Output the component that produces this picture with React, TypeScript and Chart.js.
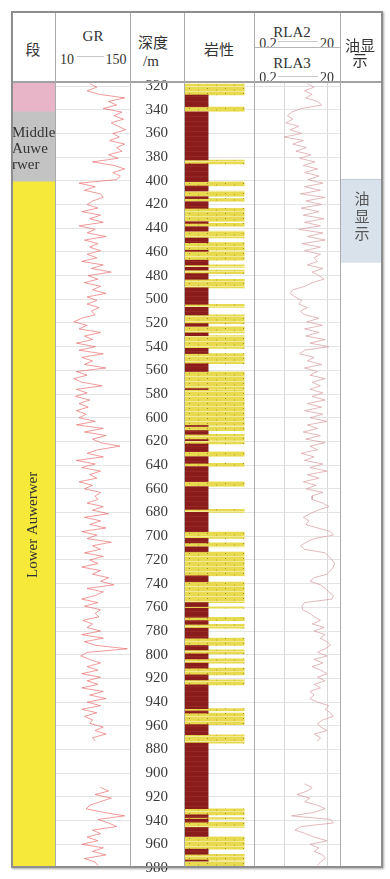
import React, { useEffect, useRef } from 'react';
import { Chart, registerables } from 'chart.js';

Chart.register(...registerables);

// ---------------- data ----------------
const DEPTH_MIN = 316.6;
const DEPTH_MAX = 980;
const DEPTH_TICKS = [320, 340, 360, 380, 400, 420, 440, 460, 480, 500, 520, 540, 560, 580, 600, 620, 640, 660, 680, 700, 720, 740, 760, 780, 800, 820, 840, 860, 880, 900, 920, 940, 960, 980];
const DEPTH_LABELS = ['320', '340', '360', '380', '400', '420', '440', '460', '480', '500', '520', '540', '560', '580', '600', '620', '640', '660', '680', '700', '720', '740', '760', '780', '800', '920', '940', '960', '880', '900', '920', '940', '960', '980'];

// 段 (formation segments)
const SEG_TOP = [316.6, 341.7, 400.8];
const SEG_BASE = [341.7, 400.8, 980];
const SEG_COLOR = ['#e8b4c8', '#c3c3c3', '#f6e93a'];
const SEG_TEXT = [[], ['Middle', 'Auwe', 'rwer'], ['Lower Auwerwer']];
const SEG_VERTICAL = [false, false, true];

// 油显示
const OIL_TOP = [398.5];
const OIL_BASE = [469.1];
const OIL_TEXT = ['油', '显', '示'];

// 岩性 intervals [top, base]
const SAND = [[318.3, 327.6], [337.5, 341.7], [382.4, 385.8], [400.7, 404.4], [408.6, 413.4], [415, 417.6], [423.2, 434.5], [435.9, 438.7], [442.5, 448.3], [452.2, 458.6], [459.6, 467], [471, 473], [475.3, 478.3], [483.1, 490.3], [504.2, 506.8], [513.2, 520.5], [522.8, 528.4], [530.7, 541.4], [545.8, 554.4], [561, 575.4], [576.2, 606.5], [607.4, 610.8], [613.9, 618.4], [619.3, 622.1], [628.6, 632.8], [638.4, 641.2], [653.9, 658.1], [677.3, 679.8], [696.2, 701.8], [705.6, 708.9], [713.1, 733.4], [738.4, 756], [759.4, 760.8], [768.4, 771.2], [774.3, 777.6], [786, 792.2], [795.9, 799.3], [803.5, 807.1], [811.3, 817], [821.2, 825.4], [845.5, 847.5], [849.2, 859], [867.5, 874.6], [930, 935.1], [937.4, 938.8], [941.3, 945.8], [953.4, 964.1], [968.4, 973.3], [974.2, 979.6]];
const MUD = [[327.6, 337.5], [341.7, 382.4], [385.8, 400.7], [404.4, 408.6], [413.4, 415], [417.6, 423.2], [434.5, 435.9], [438.7, 442.5], [448.3, 452.2], [458.6, 459.6], [467, 471], [473, 475.3], [478.3, 483.1], [490.3, 504.2], [506.8, 513.2], [520.5, 522.8], [528.4, 530.7], [541.4, 545.8], [554.4, 561], [575.4, 576.2], [606.5, 607.4], [610.8, 613.9], [618.4, 619.3], [622.1, 628.6], [632.8, 638.4], [641.2, 653.9], [658.1, 677.3], [679.8, 696.2], [701.8, 705.6], [708.9, 713.1], [733.4, 738.4], [756, 759.4], [760.8, 768.4], [771.2, 774.3], [777.6, 786], [792.2, 795.9], [799.3, 803.5], [807.1, 811.3], [817, 821.2], [825.4, 845.5], [847.5, 849.2], [859, 867.5], [874.6, 930], [935.1, 937.4], [938.8, 941.3], [945.8, 953.4], [964.1, 968.4], [973.3, 974.2]];
const SAND_WIDTH = 0.86; // fraction of lithology track
const MUD_WIDTH = 0.345;

// log curves sampled every LOG_STEP m from LOG_TOP
const LOG_TOP = 318;
const LOG_STEP = 3;
const GR = [
  75, 88, 70, 92, 140, 110, 125, 100, 135, 120,
  138, 115, 128, 142, 118, 130, 112, 140, 125, 135,
  110, 128, 80, 120, 140, 118, 132, 125,
  55, 85, 65, 95, 100, 80, 70, 90, 60, 95,
  75, 100, 55, 85, 70, 105, 65, 90, 75, 95,
  70, 88, 60, 100, 78, 115, 72, 90, 65, 95, 80, 105, 70,
  88, 70, 92, 78, 85, 60, 45, 70, 55, 95,
  65, 80, 50, 85, 55, 100, 60, 80, 65, 105,
  50, 70, 45, 60, 98, 50, 70, 48, 75, 55,
  72, 50, 68, 55, 85, 50, 100, 65, 105, 80,
  95, 131, 90, 70, 100, 50, 85, 60, 95, 75,
  88, 55, 80, 65, 95, 85,
  90, 70, 100, 80, 110, 65, 95, 75, 105, 60,
  88, 70, 115, 80, 95, 65, 100, 75, 90, 60,
  95, 80, 110,
  95, 120, 70, 100, 85, 60, 90, 65, 95, 85,
  92, 62, 80, 70, 95, 60, 100, 65, 85, 145,
  70, 58, 75, 95, 70, 90, 60, 95, 70, 90,
  60, 100, 75, 105, 70, 95, 60, 88, 65, 80,
  75, 100, 85, 105, 80, 85,
  null, null, null, null, null, null, null, null, null, null, null, null,
  95, 110, 85, 115, 95, 75, 68, 100, 140, 90,
  110, 125, 80, 95, 70, 90, 60, 100, 80, 105,
  65, 85, 90,
];
const RLA = [
  3.5, 5, 3, 4.5, 3.2, 6, 7.5,
  2.5, 1.5, 1.2, 1.6, 1.1, 2.2, 1.4, 2.6, 1.0,
  2.8, 1.6, 3.3, 1.9, 4.2, 2.3, 5.2, 2.8, 6, 3.0, 6.5, 3.6,
  8, 3, 7, 2.4, 9, 3.2, 7.5, 2.5, 6.5, 2.8, 8.5, 3, 7, 2.2, 8, 3.5, 9, 2.6, 7,
  3, 7, 5, 6, 3.5, 8, 4.5, 6.5, 8.5, 4.5,
  3.1, 1.6, 1.4, 1.8, 2.6, 2.2, 3.5, 2.4, 3.0, 6.5,
  3.4, 7.8, 3.0, 6.5, 3.2, 9, 4, 11, 3, 2.3,
  5, 3.5, 7.5, 3, 6, 4, 9, 4.5, 7, 4, 8,
  4.5, 9, 3.5, 7.5, 3, 8, 4, 10, 3.5, 6,
  2.8, 7, 3.2, 9, 4, 6, 2.5, 5, 3, 8,
  4, 10, 3.5, 6.5, 2.8, 5.5, 3.3, 8, 4.5,
  4.5, 8, 11, 6, 4, 2.8, 3.8, 3.2, 6, 12,
  14, 5, 3.3, 2.4, 3, 9, 11, 13, 15, 14,
  12, 10, 5, 4, 7, 9, 11, 14, 13, 3,
  2.6, 2.7, 4, 5, 7, 4.5, 8.5, 5, 9, 7,
  10, 12, 9, 6, 10, 5, 8, 4.5, 7, 10,
  6, 9, 5, 7, 4, 5,
  4, 6, 11, 9, 12, 14, 8, 6, 7, 10, 5, 7, 6,
  null, null, null, null, null, null, null, null, null, null, null,
  3.0, 4.5, 3.5, 2, 4, 3, 6, 9, 5, 1.5,
  12, 14, 2.5, 1.8, 3.2, 5, 10, 4, 6.5, 5,
  8, 9, 7, 6,
];

// ---------------- layout / style ----------------
const TRACK_TOP = 82;
const TRACK_H = 786;
const GRID_COLOR = '#e4e4e4';
const SERIF = '"Liberation Serif", "Noto Sans CJK SC", serif';
const TEXT_COLOR = '#333';

function runs(values: (number | null)[]) {
  const out: { x: number; y: number }[][] = [];
  let cur: { x: number; y: number }[] = [];
  values.forEach((v, i) => {
    const y = LOG_TOP + i * LOG_STEP;
    if (v === null) {
      if (cur.length) out.push(cur);
      cur = [];
    } else cur.push({ x: v, y });
  });
  if (cur.length) out.push(cur);
  return out;
}

function depthScale(grid: boolean, labels = false): any {
  return {
    type: 'linear',
    reverse: true,
    min: DEPTH_MIN,
    max: DEPTH_MAX,
    position: 'left',
    afterBuildTicks: (s: any) => {
      s.ticks = DEPTH_TICKS.map((value) => ({ value }));
    },
    grid: { display: grid, color: GRID_COLOR, lineWidth: 1, drawTicks: false },
    border: { display: false },
    ticks: labels
      ? {
          display: true,
          autoSkip: false,
          padding: 0,
          color: '#3a3a3a',
          font: { family: SERIF, size: 15 },
          callback: (_v: any, i: number) => DEPTH_LABELS[i],
        }
      : { display: false },
    afterFit: (s: any) => {
      s.width = labels ? 38 : 0;
    },
  };
}

const baseOptions = {
  animation: false,
  responsive: false,
  maintainAspectRatio: false,
  events: [],
  layout: { padding: 0 },
  plugins: { legend: { display: false }, tooltip: { enabled: false } },
};

function makePattern(kind: 'sand' | 'mud') {
  const c = document.createElement('canvas');
  const g = c.getContext('2d')!;
  if (kind === 'sand') {
    c.width = 18;
    c.height = 5;
    g.fillStyle = '#e8da4e';
    g.fillRect(0, 0, 18, 5);
    g.fillStyle = '#f2ea98';
    g.fillRect(0, 4, 18, 1);
    g.fillStyle = '#a08a2c';
    g.fillRect(5, 1, 1, 1);
    g.fillStyle = '#cdbd3e';
    g.fillRect(14, 2, 1, 2);
  } else {
    c.width = 6;
    c.height = 5;
    g.fillStyle = '#8b1c1c';
    g.fillRect(0, 0, 6, 5);
    g.fillStyle = '#962826';
    g.fillRect(0, 4, 6, 1);
  }
  return g.createPattern(c, 'repeat');
}

function ChartBox(props: { left: number; top: number; width: number; height: number; make: () => any }) {
  const ref = useRef<HTMLCanvasElement>(null);
  useEffect(() => {
    const chart = new Chart(ref.current as HTMLCanvasElement, props.make());
    return () => chart.destroy();
  }, []);
  return (
    <canvas
      ref={ref}
      width={props.width}
      height={props.height}
      style={{ position: 'absolute', left: props.left, top: props.top, width: props.width, height: props.height }}
    />
  );
}

// ---------- chart configs ----------
const segConfig = () => ({
  type: 'bar',
  data: {
    labels: ['段'],
    datasets: [
      {
        data: SEG_TOP.map((t, i) => ({ x: '段', y: [t, SEG_BASE[i]] })),
        backgroundColor: SEG_COLOR,
        barPercentage: 1,
        categoryPercentage: 1,
        borderWidth: 0,
      },
    ],
  },
  options: {
    ...baseOptions,
    scales: { x: { type: 'category', display: false }, y: depthScale(false) },
  },
  plugins: [
    {
      id: 'segText',
      afterDatasetsDraw(chart: any) {
        const { ctx, chartArea } = chart;
        const y = chart.scales.y;
        ctx.save();
        ctx.fillStyle = TEXT_COLOR;
        ctx.font = `15px ${SERIF}`;
        ctx.textBaseline = 'middle';
        SEG_TEXT.forEach((lines, i) => {
          if (!lines.length) return;
          const mid = (y.getPixelForValue(SEG_TOP[i]) + y.getPixelForValue(SEG_BASE[i])) / 2;
          if (SEG_VERTICAL[i]) {
            ctx.save();
            ctx.translate((chartArea.left + chartArea.right) / 2, mid);
            ctx.rotate(-Math.PI / 2);
            ctx.textAlign = 'center';
            ctx.fillText(lines[0], 0, 0);
            ctx.restore();
          } else {
            ctx.textAlign = 'left';
            lines.forEach((t, k) => ctx.fillText(t, chartArea.left, mid + 2 + (k - (lines.length - 1) / 2) * 16));
          }
        });
        ctx.restore();
      },
    },
  ],
});

const grConfig = () => ({
  type: 'scatter',
  data: {
    datasets: runs(GR).map((pts) => ({
      data: pts,
      showLine: true,
      pointRadius: 0,
      borderColor: 'rgba(228,80,80,0.72)',
      borderWidth: 0.8,
      tension: 0,
    })),
  },
  options: {
    ...baseOptions,
    scales: { x: { type: 'linear', min: 10, max: 150, display: false }, y: depthScale(true) },
  },
});

const depthConfig = () => ({
  type: 'scatter',
  data: { datasets: [{ data: [] }] },
  options: {
    ...baseOptions,
    layout: { padding: { top: 12, bottom: 11, left: 0, right: 0 } },
    scales: { x: { type: 'linear', display: false }, y: depthScale(false, true) },
  },
});

const lithConfig = (w: number) => () => ({
  type: 'bar',
  data: {
    datasets: [
      {
        data: MUD.map(([t, b]) => ({ x: MUD_WIDTH / 2, y: [t, b] })),
        backgroundColor: makePattern('mud'),
        barThickness: MUD_WIDTH * w,
        grouped: false,
        borderWidth: 0,
      },
      {
        data: SAND.map(([t, b]) => ({ x: SAND_WIDTH / 2, y: [t, b] })),
        backgroundColor: makePattern('sand'),
        barThickness: SAND_WIDTH * w,
        grouped: false,
        borderWidth: 0,
      },
    ],
  },
  options: {
    ...baseOptions,
    scales: { x: { type: 'linear', min: 0, max: 1, offset: false, display: false }, y: depthScale(true) },
  },
});

const rlaConfig = () => ({
  type: 'scatter',
  data: {
    datasets: runs(RLA).map((pts) => ({
      data: pts,
      showLine: true,
      pointRadius: 0,
      borderColor: 'rgba(214,158,162,0.9)',
      borderWidth: 0.8,
      tension: 0,
    })),
  },
  options: {
    ...baseOptions,
    scales: {
      x: {
        type: 'logarithmic',
        min: 0.2,
        max: 20,
        position: 'top',
        afterBuildTicks: (s: any) => {
          s.ticks = [{ value: 1 }, { value: 10 }];
        },
        grid: { color: '#d8d8d8', drawTicks: false },
        border: { display: false },
        ticks: { display: false },
        afterFit: (s: any) => {
          s.height = 0;
        },
      },
      y: depthScale(true),
    },
  },
});

const oilConfig = () => ({
  type: 'bar',
  data: {
    labels: ['油显示'],
    datasets: [
      {
        data: OIL_TOP.map((t, i) => ({ x: '油显示', y: [t, OIL_BASE[i]] })),
        backgroundColor: '#d9e2ea',
        borderColor: '#b9c4cc',
        borderWidth: { top: 1, bottom: 0, left: 0, right: 0 },
        borderSkipped: false,
        barPercentage: 1,
        categoryPercentage: 1,
      },
    ],
  },
  options: {
    ...baseOptions,
    scales: { x: { type: 'category', display: false }, y: depthScale(false) },
  },
  plugins: [
    {
      id: 'oilText',
      afterDatasetsDraw(chart: any) {
        const { ctx, chartArea } = chart;
        const y = chart.scales.y;
        ctx.save();
        ctx.fillStyle = '#555';
        ctx.font = `15px ${SERIF}`;
        ctx.textAlign = 'center';
        ctx.textBaseline = 'middle';
        OIL_TOP.forEach((t, i) => {
          const mid = (y.getPixelForValue(t) + y.getPixelForValue(OIL_BASE[i])) / 2 - 3;
          OIL_TEXT.forEach((ch, k) =>
            ctx.fillText(ch, (chartArea.left + chartArea.right) / 2 + 1, mid + (k - (OIL_TEXT.length - 1) / 2) * 17.5)
          );
        });
        ctx.restore();
      },
    },
  ],
});

// ---------- header helpers ----------
function T(p: { x: number; y: number; s?: number; c?: string; children: React.ReactNode }) {
  return (
    <div
      style={{
        position: 'absolute',
        left: p.x,
        top: p.y,
        transform: 'translate(-50%, -50%)',
        whiteSpace: 'nowrap',
        lineHeight: 1,
        fontFamily: SERIF,
        fontSize: p.s ?? 15,
        color: p.c ?? TEXT_COLOR,
        zIndex: 3,
      }}
    >
      {p.children}
    </div>
  );
}

function HLine(p: { x1: number; x2: number; y: number; c?: string; h?: number }) {
  return <div style={{ position: 'absolute', left: p.x1, top: p.y, width: p.x2 - p.x1, height: p.h ?? 1, background: p.c ?? '#bdbdbd', zIndex: 4 }} />;
}
function VLine(p: { x: number; y1: number; y2: number; c?: string; w?: number }) {
  return <div style={{ position: 'absolute', left: p.x, top: p.y1, width: p.w ?? 1, height: p.y2 - p.y1, background: p.c ?? '#ababab', zIndex: 4 }} />;
}

export default function App() {
  return (
    <div style={{ position: 'absolute', left: 0, top: 0, width: 390, height: 879, background: '#fff', overflow: 'hidden' }}>
      {/* tracks */}
      <ChartBox left={12} top={TRACK_TOP} width={43} height={TRACK_H} make={segConfig} />
      <ChartBox left={55} top={TRACK_TOP} width={75} height={TRACK_H} make={grConfig} />
      <ChartBox left={130} top={70} width={54} height={809} make={depthConfig} />
      <ChartBox left={184} top={TRACK_TOP} width={70} height={TRACK_H} make={lithConfig(70)} />
      <ChartBox left={254} top={TRACK_TOP} width={86} height={TRACK_H} make={rlaConfig} />
      <ChartBox left={340} top={TRACK_TOP} width={42} height={TRACK_H} make={oilConfig} />

      {/* frame */}
      <div
        style={{
          position: 'absolute',
          left: 11,
          top: 11,
          width: 372,
          height: 857,
          border: '2px solid #8e8e8e',
          boxSizing: 'border-box',
          boxShadow: '1px 1px 2px rgba(0,0,0,0.35)',
          zIndex: 5,
        }}
      />
      <HLine x1={11} x2={383} y={81} h={2} c="#a2a2a2" />
      <VLine x={55} y1={11} y2={868} />
      <VLine x={130} y1={11} y2={868} />
      <VLine x={184} y1={11} y2={868} />
      <VLine x={254} y1={11} y2={868} />
      <VLine x={340} y1={11} y2={868} />
      <HLine x1={254} x2={340} y={47} c="#b5b5b5" />

      {/* header texts */}
      <T x={33} y={50}>段</T>
      <T x={93} y={36}>GR</T>
      <T x={67} y={60} s={14}>10</T>
      <T x={116} y={60} s={14}>150</T>
      <HLine x1={77} x2={104} y={56} c="#c8c8c8" />
      <T x={153} y={43}>深度</T>
      <T x={151} y={61}>/m</T>
      <T x={219} y={50}>岩性</T>
      <T x={292} y={32}>RLA2</T>
      <T x={268} y={44} s={14}>0.2</T>
      <T x={327} y={44} s={14}>20</T>
      <HLine x1={278} x2={318} y={41} c="#c8c8c8" />
      <T x={292} y={63}>RLA3</T>
      <T x={268} y={78} s={14}>0.2</T>
      <T x={327} y={78} s={14}>20</T>
      <HLine x1={278} x2={318} y={76} c="#c8c8c8" />
      <T x={360} y={46}>油显</T>
      <T x={360} y={61}>示</T>
    </div>
  );
}
